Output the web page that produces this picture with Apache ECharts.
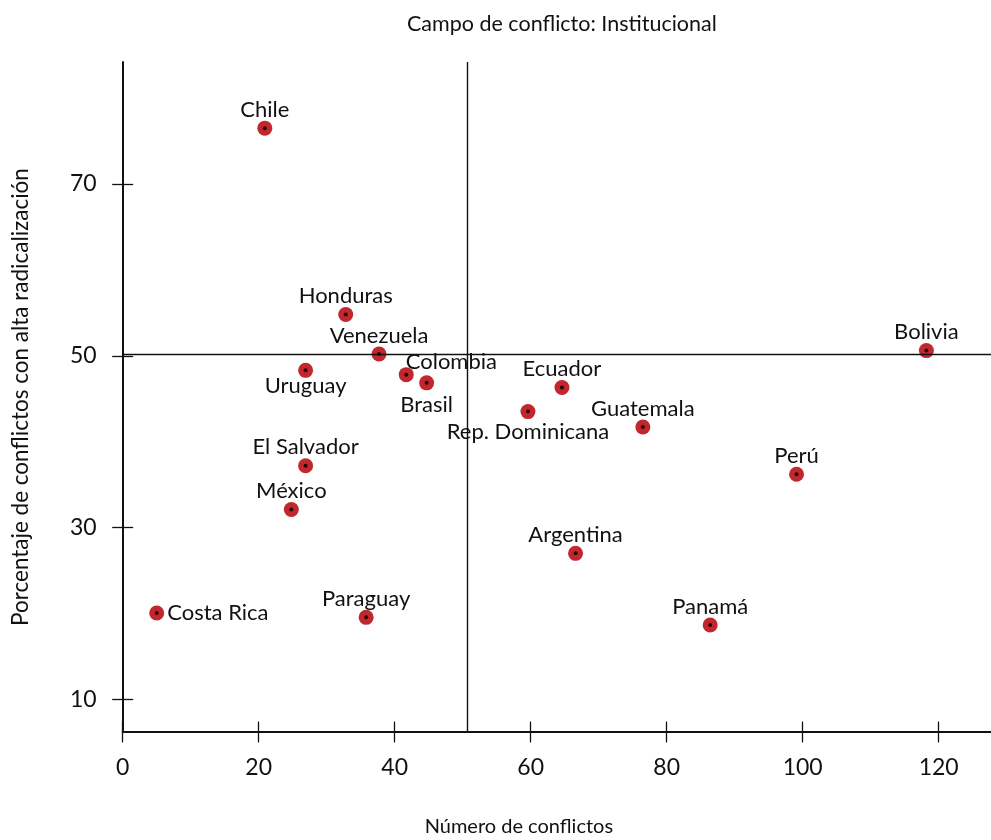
<!DOCTYPE html>
<html>
<head>
<meta charset="utf-8">
<script src="https://cdn.jsdelivr.net/npm/echarts@6/dist/echarts.min.js"></script>
<style>
  html, body { margin: 0; padding: 0; background: #fff; }
  #scatter { width: 991px; height: 840px; }
</style>
</head>
<body>
<div id="scatter"></div>
<script>
// datos
let countries = ['Chile','Honduras','Venezuela','Uruguay','Colombia','Brasil','Ecuador',
	'Rep. Dominicana','Guatemala','Bolivia','Perú','El Salvador','México','Argentina',
	'Costa Rica','Paraguay','Panamá']
let conflicts = [20.9, 32.8, 37.7, 26.9, 41.7, 44.7, 64.6, 59.6, 76.5, 118.2, 99.1, 26.9, 24.8, 66.6, 5.0, 35.8, 86.4]
let radicalization = [76.5, 54.8, 50.2, 48.3, 47.8, 46.85, 46.3, 43.5, 41.7, 50.6, 36.2, 37.2, 32.1, 27.0, 20.05, 19.55, 18.65]
let xTicks = [0, 20, 40, 60, 80, 100, 120]
let yTicks = [10, 30, 50, 70]
let refX = 50.7
let refY = 50.2

let red = '#c1272d'
let font = 'Lato'

// donde va cada etiqueta
let labelPlace = {
	'Uruguay': {position:'bottom', distance:-3},
	'Brasil': {position:'bottom', distance:4},
	'Rep. Dominicana': {position:'bottom', distance:2},
	'Costa Rica': {position:'right', distance:3},
	'Colombia': {position:'right', distance:2, offset:[-10,-13]}
}

function makeScatter(id) {
	let chart = echarts.init(document.getElementById(id))
	let points = []
	let dots = []
	for(let i = 0;i<countries.length;i++) {
		let p = {name:countries[i], value:[conflicts[i], radicalization[i]]}
		if(labelPlace[countries[i]]) {
			p.label = labelPlace[countries[i]]
		}
		points.push(p)
		dots.push([conflicts[i], radicalization[i]])
	}

	let xBase = {
		type:'value', min:0, max:127.7,
		splitLine:{show:false}, position:'bottom'
	}
	let yBase = {
		type:'value', min:6.2, max:84.2,
		splitLine:{show:false}, position:'left'
	}
	let tickStyle = {color:'#111', width:1.3}

	let option = {
		animation:false,
		textStyle:{fontFamily:font},
		title:{
			text:'Campo de conflicto: Institucional',
			left:402, top:8,
			textStyle:{fontFamily:font, fontSize:21.5, fontWeight:'normal', color:'#111'}
		},
		grid:{left:122.7, right:0, top:62, bottom:108, outerBoundsMode:'none'},
		xAxis:[
			Object.assign({}, xBase, {
				name:'Número de conflictos',
				nameLocation:'middle',
				nameGap:85,
				nameTextStyle:{fontFamily:font, fontSize:20, color:'#111', padding:[0,76,0,0]},
				axisLine:{onZero:false, lineStyle:{color:'#111', width:2}},
				axisTick:{length:10.5, customValues:xTicks, lineStyle:tickStyle},
				axisLabel:{margin:24, customValues:xTicks, fontFamily:font, fontSize:23, color:'#111'}
			}),
			Object.assign({}, xBase, {
				axisLine:{show:false},
				axisTick:{inside:true, length:10.5, customValues:xTicks, lineStyle:tickStyle},
				axisLabel:{show:false}
			})
		],
		yAxis:[
			Object.assign({}, yBase, {
				name:'Porcentaje de conflictos con alta radicalización',
				nameLocation:'middle',
				nameGap:90,
				nameTextStyle:{fontFamily:font, fontSize:22.5, color:'#111'},
				axisLine:{onZero:false, lineStyle:{color:'#111', width:2}},
				axisTick:{length:10.5, customValues:yTicks, lineStyle:tickStyle},
				axisLabel:{margin:26, customValues:yTicks, fontFamily:font, fontSize:23, color:'#111'}
			}),
			Object.assign({}, yBase, {
				axisLine:{show:false},
				axisTick:{inside:true, length:10.5, customValues:yTicks, lineStyle:tickStyle},
				axisLabel:{show:false}
			})
		],
		series:[
			{
				type:'scatter',
				symbolSize:15,
				itemStyle:{color:red, opacity:1},
				label:{
					show:true,
					position:'top',
					distance:0,
					formatter:'{b}',
					fontFamily:font,
					fontSize:22,
					color:'#111'
				},
				data:points,
				markLine:{
					silent:true,
					symbol:'none',
					label:{show:false},
					lineStyle:{color:'#111', width:1.4, type:'solid'},
					data:[{xAxis:refX}, {yAxis:refY}]
				},
				z:3
			},
			{
				type:'scatter',
				symbolSize:4,
				silent:true,
				itemStyle:{color:'#000'},
				data:dots,
				z:4
			}
		]
	}
	chart.setOption(option)
}

window.onload = function() {
	makeScatter('scatter')
}
</script>
</body>
</html>
